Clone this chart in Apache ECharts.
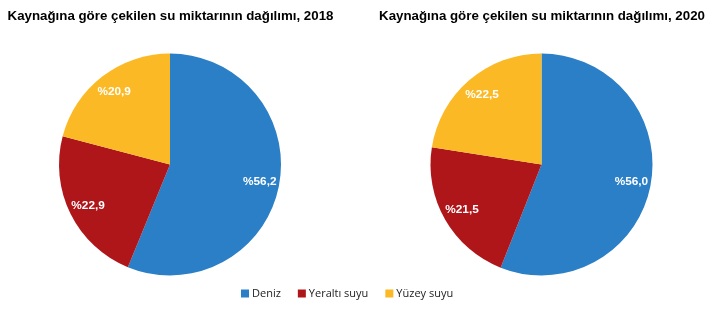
<!DOCTYPE html>
<html><head><meta charset="utf-8">
<script src="https://cdn.jsdelivr.net/npm/echarts@6/dist/echarts.min.js"></script>
<style>html,body{margin:0;padding:0;background:#fff}#c{width:712px;height:310px}</style>
</head><body><div id="c"></div>
<script>
const categories = ['Deniz', 'Yeraltı suyu', 'Yüzey suyu'];
const values2018 = [56.2, 22.9, 20.9];
const values2020 = [56.0, 21.5, 22.5];
const titles = ['Kaynağına göre çekilen su miktarının dağılımı, 2018', 'Kaynağına göre çekilen su miktarının dağılımı, 2020'];
const colors = ['#2A7FC6', '#AE1619', '#FBB925'];

const chart = echarts.init(document.getElementById('c'));
const fmt = v => '%' + v.toFixed(1).replace('.', ',');
function pies(vals, cx) {
  const data = categories.map((c, i) => ({ name: c, value: vals[i] }));
  return [
    { type: 'pie', center: [cx, 164.5], radius: [0, 111], startAngle: 90, clockwise: true,
      label: { show: false }, labelLine: { show: false }, silent: true,
      itemStyle: { borderWidth: 0 }, data: data },
    { type: 'pie', center: [cx, 164.5], radius: [66, 111], startAngle: 90, clockwise: true,
      silent: true, legendHoverLink: false,
      itemStyle: { color: 'rgba(0,0,0,0)', borderWidth: 0 },
      label: { show: true, position: 'inside', color: '#fff', fontWeight: 'bold', fontSize: 11.8,
        fontFamily: 'Liberation Sans, Arial, sans-serif', formatter: p => fmt(p.value) },
      labelLine: { show: false }, data: data.map(d => ({ name: d.name + ' ', value: d.value })) }
  ];
}
chart.setOption({
  animation: false,
  color: colors,
  title: [
    { text: titles[0], left: 165.5, top: 5, textAlign: 'center',
      textStyle: { fontFamily: 'Liberation Sans, Arial, sans-serif', fontSize: 13.3, fontWeight: 'bold', color: '#000' } },
    { text: titles[1], left: 537, top: 5, textAlign: 'center',
      textStyle: { fontFamily: 'Liberation Sans, Arial, sans-serif', fontSize: 13.3, fontWeight: 'bold', color: '#000' } }
  ],
  legend: { data: categories, left: 236, top: 283, icon: 'rect', itemWidth: 8, itemHeight: 8, itemGap: 17,
    textStyle: { fontFamily: 'Open Sans, sans-serif', fontSize: 11, color: '#222', padding: [0, 0, 0, -2] } },
  series: [...pies(values2018, 170), ...pies(values2020, 541.5)]
});
</script></body></html>
